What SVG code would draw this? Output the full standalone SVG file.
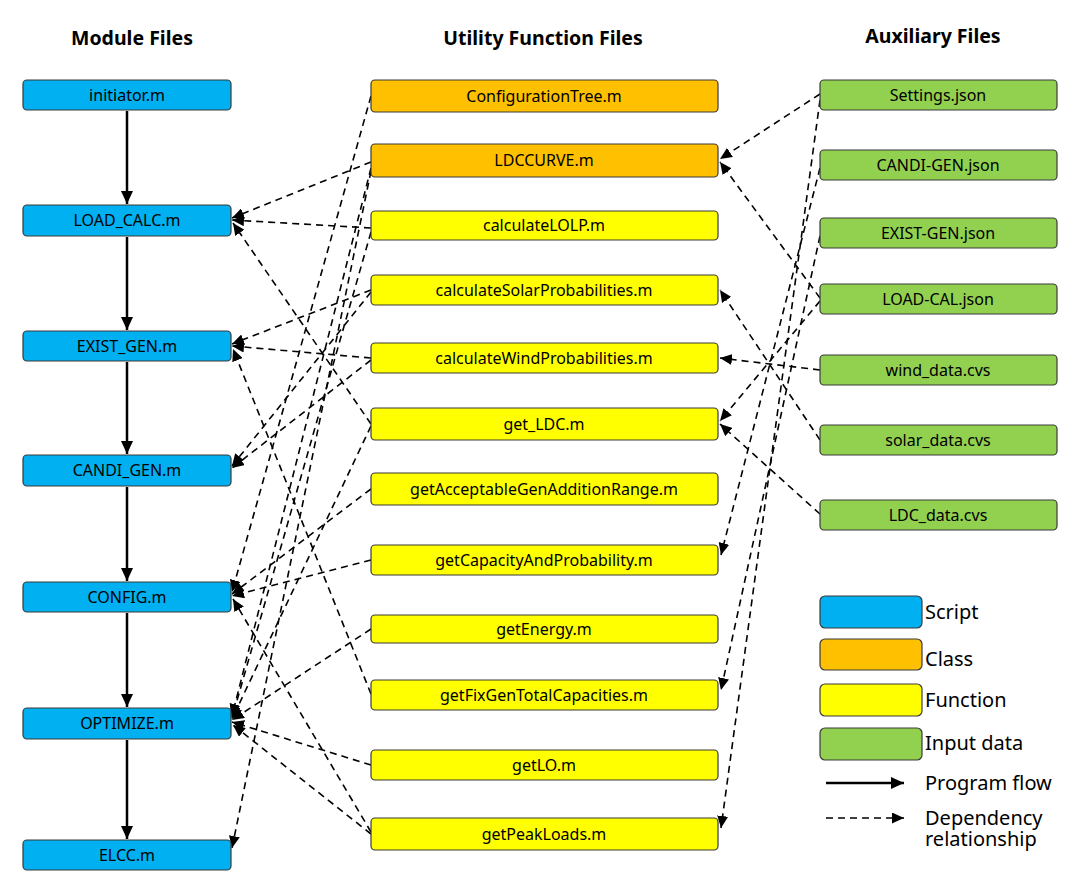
<svg xmlns="http://www.w3.org/2000/svg" width="1076" height="888" viewBox="0 0 1076 888">
<defs>
<style>
.hdr{font-family:"Noto Sans","Open Sans",sans-serif;font-weight:bold;font-size:19.5px;fill:#000;text-anchor:middle}
.lbl{font-family:"Noto Sans","Open Sans",sans-serif;font-size:16px;fill:#000;text-anchor:middle}
.leg{font-family:"Noto Sans","Open Sans",sans-serif;font-size:20px;fill:#000}
.box{stroke:#3a3a3a;stroke-width:1.2}
.script{fill:#00B0F0}
.cls{fill:#FFC000}
.fn{fill:#FFFF00}
.data{fill:#92D050}
.dep{fill:none;stroke:#000;stroke-width:1.6;stroke-dasharray:7 5;marker-end:url(#dArr)}
.flow{fill:none;stroke:#000;stroke-width:2.5;marker-end:url(#fArr)}
</style>
<marker id="dArr" markerUnits="userSpaceOnUse" markerWidth="13" markerHeight="11" refX="12" refY="5.5" orient="auto">
<path d="M0,0 L12,5.5 L0,11 z" fill="#000"/>
</marker>
<marker id="fArr" markerUnits="userSpaceOnUse" markerWidth="14" markerHeight="12" refX="13" refY="6" orient="auto">
<path d="M0,0 L13,6 L0,12 z" fill="#000"/>
</marker>
</defs>
<rect width="1076" height="888" fill="#fff"/>

<g id="headers">
<text class="hdr" x="132" y="45">Module Files</text>
<text class="hdr" x="543" y="45">Utility Function Files</text>
<text class="hdr" x="933" y="43">Auxiliary Files</text>
</g>

<g id="connectors">
<line class="flow" x1="127" y1="111" x2="127" y2="204"/>
<line class="flow" x1="127" y1="237" x2="127" y2="330"/>
<line class="flow" x1="127" y1="362" x2="127" y2="454"/>
<line class="flow" x1="127" y1="487" x2="127" y2="581"/>
<line class="flow" x1="127" y1="613" x2="127" y2="707"/>
<line class="flow" x1="127" y1="740" x2="127" y2="839"/>
<line class="dep" x1="371" y1="162" x2="232" y2="218"/>
<line class="dep" x1="371" y1="228" x2="232" y2="220"/>
<line class="dep" x1="371" y1="424" x2="233" y2="223"/>
<line class="dep" x1="371" y1="290" x2="232" y2="344"/>
<line class="dep" x1="371" y1="358" x2="232" y2="346"/>
<line class="dep" x1="371" y1="694" x2="233" y2="349"/>
<line class="dep" x1="371" y1="292" x2="232" y2="466"/>
<line class="dep" x1="371" y1="360" x2="232" y2="468"/>
<line class="dep" x1="371" y1="96" x2="232" y2="592"/>
<line class="dep" x1="371" y1="489" x2="232" y2="594"/>
<line class="dep" x1="371" y1="560" x2="232" y2="596"/>
<line class="dep" x1="371" y1="832" x2="233" y2="599"/>
<line class="dep" x1="371" y1="168" x2="232" y2="716"/>
<line class="dep" x1="371" y1="232" x2="232" y2="718"/>
<line class="dep" x1="371" y1="426" x2="232" y2="719"/>
<line class="dep" x1="371" y1="629" x2="232" y2="720"/>
<line class="dep" x1="371" y1="765" x2="232" y2="722"/>
<line class="dep" x1="371" y1="834" x2="233" y2="725"/>
<line class="dep" x1="371" y1="171" x2="232" y2="848"/>
<line class="dep" x1="820" y1="94" x2="720" y2="159"/>
<line class="dep" x1="820" y1="298" x2="720" y2="162"/>
<line class="dep" x1="820" y1="440" x2="720" y2="290"/>
<line class="dep" x1="820" y1="370" x2="720" y2="358"/>
<line class="dep" x1="820" y1="301" x2="720" y2="421"/>
<line class="dep" x1="820" y1="514" x2="720" y2="424"/>
<line class="dep" x1="820" y1="168" x2="721" y2="555"/>
<line class="dep" x1="820" y1="236" x2="721" y2="690"/>
<line class="dep" x1="820" y1="100" x2="721" y2="828"/>
</g>

<g id="initiator"><rect class="box script" x="23" y="80" width="208" height="30" rx="4"/><text class="lbl" x="127" y="101">initiator.m</text></g>
<g id="load_calc"><rect class="box script" x="23" y="205" width="208" height="31" rx="4"/><text class="lbl" x="127" y="226">LOAD_CALC.m</text></g>
<g id="exist_gen"><rect class="box script" x="23" y="331" width="208" height="30" rx="4"/><text class="lbl" x="127" y="352">EXIST_GEN.m</text></g>
<g id="candi_gen"><rect class="box script" x="23" y="455" width="208" height="31" rx="4"/><text class="lbl" x="127" y="476">CANDI_GEN.m</text></g>
<g id="config"><rect class="box script" x="23" y="582" width="208" height="30" rx="4"/><text class="lbl" x="127" y="603">CONFIG.m</text></g>
<g id="optimize"><rect class="box script" x="23" y="708" width="208" height="31" rx="4"/><text class="lbl" x="127" y="729">OPTIMIZE.m</text></g>
<g id="elcc"><rect class="box script" x="23" y="840" width="208" height="30" rx="4"/><text class="lbl" x="127" y="861">ELCC.m</text></g>

<g id="configurationtree"><rect class="box cls" x="371" y="80" width="347" height="32" rx="4"/><text class="lbl" x="544" y="102">ConfigurationTree.m</text></g>
<g id="ldccurve"><rect class="box cls" x="371" y="144" width="347" height="33" rx="4"/><text class="lbl" x="544" y="166">LDCCURVE.m</text></g>
<g id="calculatelolp"><rect class="box fn" x="371" y="211" width="347" height="29" rx="4"/><text class="lbl" x="544" y="231">calculateLOLP.m</text></g>
<g id="calculatesolar"><rect class="box fn" x="371" y="275" width="347" height="30" rx="4"/><text class="lbl" x="544" y="296">calculateSolarProbabilities.m</text></g>
<g id="calculatewind"><rect class="box fn" x="371" y="343" width="347" height="30" rx="4"/><text class="lbl" x="544" y="364">calculateWindProbabilities.m</text></g>
<g id="get_ldc"><rect class="box fn" x="371" y="408" width="347" height="32" rx="4"/><text class="lbl" x="544" y="430">get_LDC.m</text></g>
<g id="getacceptable"><rect class="box fn" x="371" y="473" width="347" height="32" rx="4"/><text class="lbl" x="544" y="495">getAcceptableGenAdditionRange.m</text></g>
<g id="getcapacity"><rect class="box fn" x="371" y="545" width="347" height="30" rx="4"/><text class="lbl" x="544" y="566">getCapacityAndProbability.m</text></g>
<g id="getenergy"><rect class="box fn" x="371" y="615" width="347" height="28" rx="4"/><text class="lbl" x="544" y="635">getEnergy.m</text></g>
<g id="getfixgen"><rect class="box fn" x="371" y="680" width="347" height="30" rx="4"/><text class="lbl" x="544" y="701">getFixGenTotalCapacities.m</text></g>
<g id="getlo"><rect class="box fn" x="371" y="750" width="347" height="30" rx="4"/><text class="lbl" x="544" y="771">getLO.m</text></g>
<g id="getpeakloads"><rect class="box fn" x="371" y="818" width="347" height="32" rx="4"/><text class="lbl" x="544" y="840">getPeakLoads.m</text></g>

<g id="settings"><rect class="box data" x="820" y="80" width="237" height="30" rx="4"/><text class="lbl" x="938" y="101">Settings.json</text></g>
<g id="candigen_json"><rect class="box data" x="820" y="150" width="237" height="30" rx="4"/><text class="lbl" x="938" y="171">CANDI-GEN.json</text></g>
<g id="existgen_json"><rect class="box data" x="820" y="218" width="237" height="30" rx="4"/><text class="lbl" x="938" y="239">EXIST-GEN.json</text></g>
<g id="loadcal_json"><rect class="box data" x="820" y="284" width="237" height="30" rx="4"/><text class="lbl" x="938" y="305">LOAD-CAL.json</text></g>
<g id="wind_data"><rect class="box data" x="820" y="355" width="237" height="30" rx="4"/><text class="lbl" x="938" y="376">wind_data.cvs</text></g>
<g id="solar_data"><rect class="box data" x="820" y="425" width="237" height="30" rx="4"/><text class="lbl" x="938" y="446">solar_data.cvs</text></g>
<g id="ldc_data"><rect class="box data" x="820" y="500" width="237" height="30" rx="4"/><text class="lbl" x="938" y="521">LDC_data.cvs</text></g>

<g id="legend">
<rect class="box script" x="820" y="596" width="102" height="32" rx="5"/>
<text class="leg" x="925" y="619">Script</text>
<rect class="box cls" x="820" y="639" width="102" height="31" rx="5"/>
<text class="leg" x="925" y="666">Class</text>
<rect class="box fn" x="820" y="684" width="102" height="32" rx="5"/>
<text class="leg" x="925" y="707">Function</text>
<rect class="box data" x="820" y="728" width="102" height="32" rx="5"/>
<text class="leg" x="925" y="750">Input data</text>
<line class="flow" x1="826" y1="783" x2="904" y2="783"/>
<text class="leg" x="925" y="790">Program flow</text>
<line class="dep" x1="826" y1="818" x2="904" y2="818"/>
<text class="leg" x="925" y="825">Dependency</text>
<text class="leg" x="925" y="846">relationship</text>
</g>
</svg>
